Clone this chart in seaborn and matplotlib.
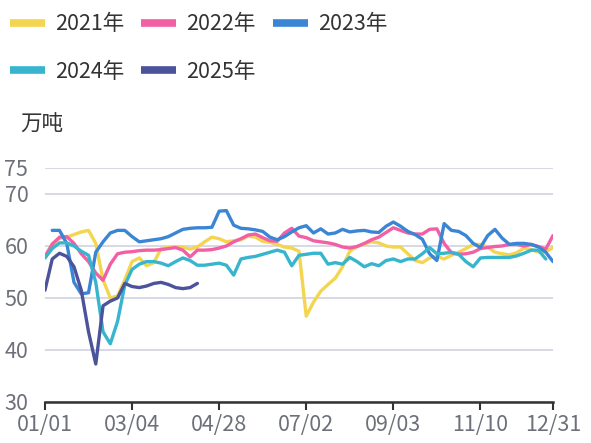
import numpy as np
import pandas as pd
import matplotlib
matplotlib.use("Agg")
import matplotlib.pyplot as plt
import seaborn as sb

nan = np.nan

# eixo x: pontos igualmente espacados, rotulos a cada 12 pontos
rotulos_x = ["01/01", "03/04", "04/28", "07/02", "09/03", "11/10", "12/31"]

anos = ["2021年", "2022年", "2023年", "2024年", "2025年"]
cores = ["#F4D54F", "#F35FA5", "#3A86D5", "#38B5CE", "#4B539B"]

v2021 = [57.7, 60.5, 61.5, 61.7, 62.2, 62.7, 63.0, 60.5, 53.5, 50.0,
         50.4, 53.5, 57.0, 57.7, 56.2, 56.8, 59.5, 59.7, 59.8, 59.8,
         59.4, 59.8, 60.8, 61.7, 61.4, 60.8, 61.0, 61.2, 61.9, 61.7,
         60.9, 60.7, 60.3, 59.8, 59.6, 59.0, 46.5, 49.2, 51.3, 52.6,
         53.8, 56.0, 59.0, 59.9, 60.4, 60.8, 60.6, 60.0, 59.8, 59.8,
         58.5, 57.2, 56.8, 57.7, 58.0, 57.5, 58.2, 58.8, 59.5, 60.3,
         60.3, 59.8, 58.8, 58.5, 58.3, 58.7, 59.6, 59.3, 58.8, 58.9,
         59.7]
v2022 = [58.0, 60.3, 61.7, 61.8, 60.5, 58.5, 57.0, 54.8, 53.4, 56.5,
         58.5, 58.8, 58.9, 59.1, 59.2, 59.2, 59.3, 59.5, 59.7, 59.2,
         57.9, 59.2, 59.2, 59.3, 59.6, 60.0, 60.8, 61.4, 62.1, 62.3,
         61.6, 61.0, 60.9, 62.5, 63.4, 61.9, 61.6, 61.0, 60.8, 60.6,
         60.3, 59.8, 59.6, 59.9, 60.5, 61.2, 61.7, 62.6, 63.5, 63.0,
         62.5, 62.3, 62.3, 63.2, 63.3, 60.5, 58.7, 58.4, 58.5, 58.8,
         59.5, 59.7, 59.9, 60.0, 60.3, 60.3, 60.0, 60.3, 59.9, 59.4,
         62.0]
v2023 = [nan, 63.0, 63.0, 60.5, 53.0, 50.8, 51.0, 58.8, 60.8, 62.5,
         63.0, 63.0, 61.8, 60.8, 61.0, 61.2, 61.4, 61.8, 62.5, 63.2,
         63.4, 63.5, 63.5, 63.6, 66.7, 66.8, 64.0, 63.4, 63.3, 63.1,
         62.8, 61.7, 61.2, 61.8, 62.7, 63.5, 63.9, 62.5, 63.3, 62.3,
         62.5, 63.2, 62.7, 62.9, 63.0, 62.7, 62.6, 63.8, 64.6, 63.8,
         62.8, 62.2, 61.3, 58.5, 57.2, 64.3, 63.0, 62.8, 62.0, 60.5,
         59.7, 62.0, 63.2, 61.5, 60.3, 60.5, 60.5, 60.3, 59.8, 58.8,
         57.0]
v2024 = [57.7, 59.5, 60.6, 60.6, 60.0, 59.0, 58.2, 53.0, 43.5, 41.2,
         45.5, 52.5, 55.5, 56.5, 57.0, 57.0, 56.7, 56.2, 57.0, 57.7,
         57.2, 56.3, 56.3, 56.5, 56.7, 56.3, 54.4, 57.5, 57.8, 58.0,
         58.4, 58.8, 59.2, 58.8, 56.2, 58.2, 58.4, 58.6, 58.6, 56.5,
         56.8, 56.5, 57.8, 57.0, 56.0, 56.6, 56.2, 57.2, 57.5, 57.0,
         57.5, 57.5, 58.5, 59.7, 58.5, 58.6, 58.8, 58.4, 57.0, 56.0,
         57.7, 57.8, 57.8, 57.8, 57.8, 58.1, 58.6, 59.2, 59.2, 57.5,
         nan]
v2025 = [51.5, 57.5, 58.6, 58.0, 56.0, 51.5, 43.5, 37.3, 48.5, 49.4,
         50.0, 52.8, 52.2, 52.0, 52.3, 52.8, 53.0, 52.6, 52.0, 51.8,
         52.0, 52.8] + [nan] * 49

series = [v2021, v2022, v2023, v2024, v2025]
n = len(v2021)

df = pd.concat([pd.DataFrame({"idx": np.arange(n), "valor": v, "ano": a})
                for v, a in zip(series, anos)], ignore_index=True)
df = df.dropna()

plt.rcParams["font.family"] = ["Noto Sans CJK SC", "DejaVu Sans"]
fs = 15.5

fig = plt.figure(figsize=(5.91, 4.43), dpi=100)
ax = fig.add_axes([0.0761, 0.0926, 0.8596, 0.5282])

sb.lineplot(data=df, x="idx", y="valor", hue="ano", hue_order=anos,
            palette=cores, linewidth=2.4, estimator=None, sort=True, ax=ax)
for ln in ax.get_lines():
    ln.set_solid_joinstyle("round")
    ln.set_solid_capstyle("round")

ax.set_xlim(0, n - 1)
ax.set_ylim(30, 75)
ax.set_yticks([30, 40, 50, 60, 70, 75])
pos_x = list(range(0, n, 12)) + [n - 1]
ax.set_xticks(pos_x)
ax.set_xticklabels(rotulos_x)
ax.set(xlabel="", ylabel="")

ax.yaxis.grid(True, color="#d6d9e5", linewidth=1.4)
ax.set_axisbelow(True)
for s in ["top", "right", "left"]:
    ax.spines[s].set_visible(False)
ax.spines["bottom"].set_color("#333333")
ax.spines["bottom"].set_linewidth(1.8)
ax.tick_params(axis="y", length=0, pad=12, labelsize=fs, labelcolor="#6e7079")
ax.tick_params(axis="x", length=6, width=1.5, color="#333333", pad=3,
               labelsize=fs, labelcolor="#6e7079")

# legenda em linhas: 2021 2022 2023 / 2024 2025
handles, labels = ax.get_legend_handles_labels()
for h in handles:
    h.set_linewidth(5.5)
    h.set_solid_capstyle("butt")
ordem = [0, 3, 1, 4, 2]
ax.legend([handles[i] for i in ordem], [labels[i] for i in ordem], ncol=3,
          loc="upper left", bbox_to_anchor=(0.0024, 0.989),
          bbox_transform=fig.transFigure, frameon=False, fontsize=fs,
          handlelength=1.63, handletextpad=0.47, columnspacing=0.78,
          labelspacing=1.18, labelcolor="#333333",
          borderpad=0.2, borderaxespad=0.2)

fig.text(0.034, 0.718, "万吨", fontsize=fs, color="#333333", va="center")

fig.savefig("out.png", dpi=100)
